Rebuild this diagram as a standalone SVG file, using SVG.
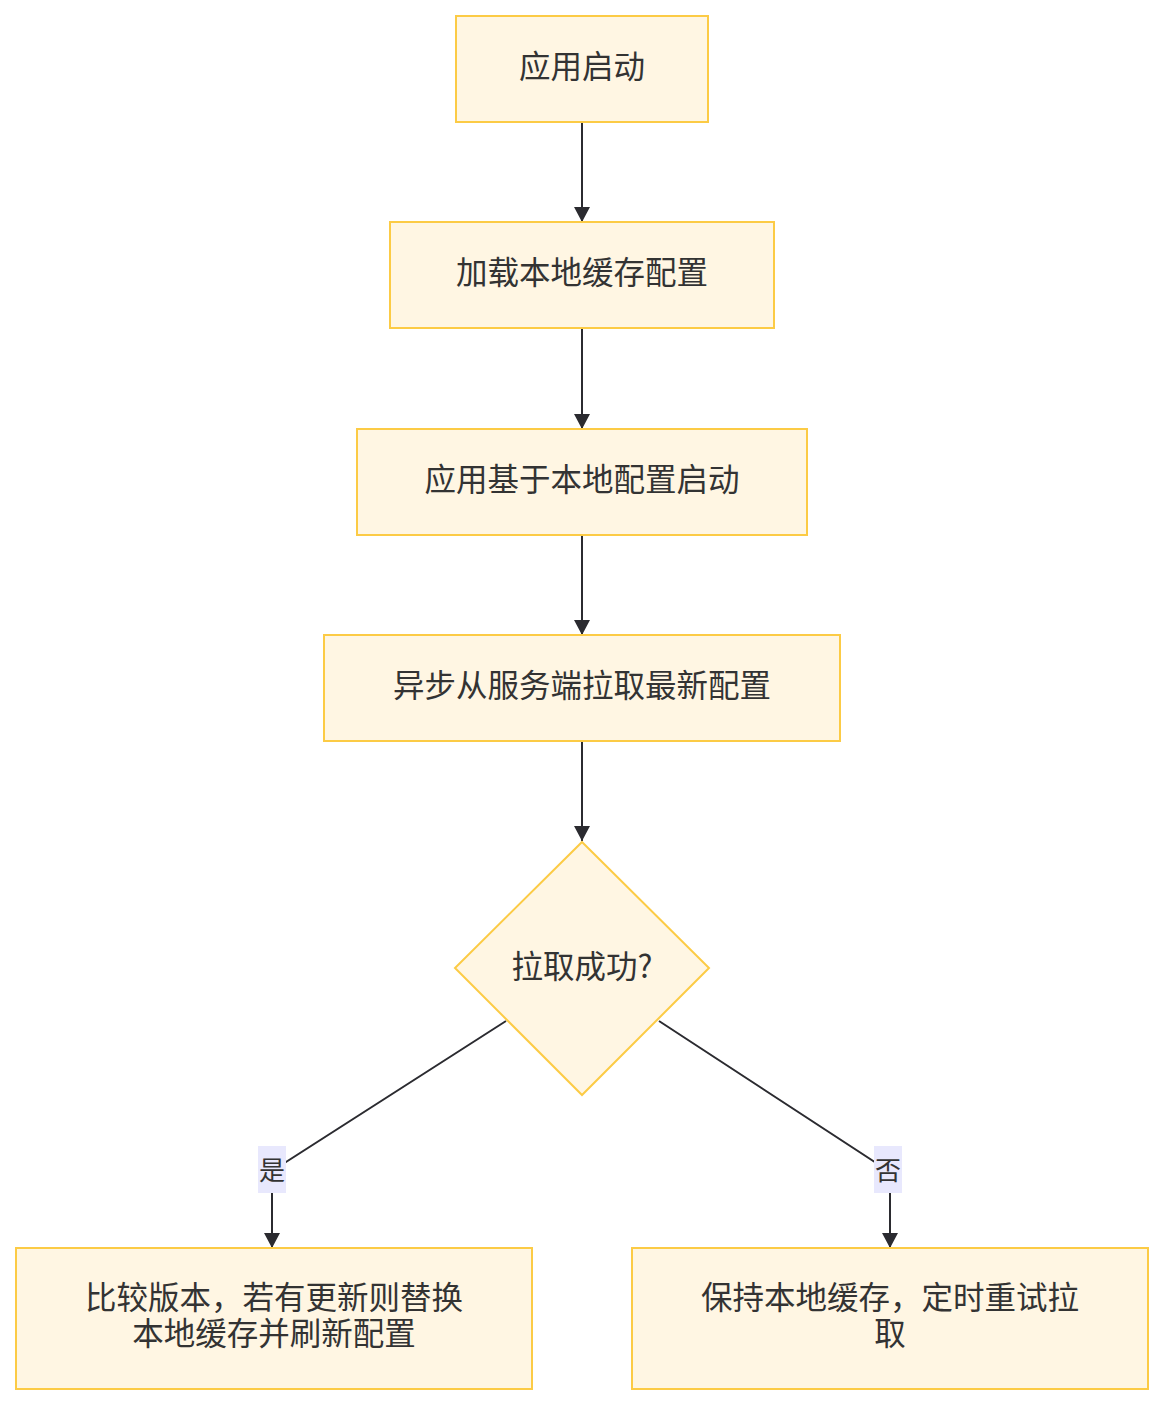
<svg xmlns="http://www.w3.org/2000/svg" width="1164" height="1406" viewBox="0 0 1164 1406">
<defs>
<marker id="arr" viewBox="0 0 10 10" refX="10" refY="5" markerWidth="15" markerHeight="16" markerUnits="userSpaceOnUse" orient="auto" preserveAspectRatio="none">
<path d="M0,0 L10,5 L0,10 z" fill="#2b2b30"/>
</marker>
<style>
.n{fill:#fff6e3;stroke:#fccb45;stroke-width:2}
.t{font-family:"Noto Sans CJK SC","Noto Sans",sans-serif;font-size:31.5px;fill:#333;text-anchor:middle;dominant-baseline:central}
.e{fill:none;stroke:#2b2b30;stroke-width:2}
.lb{fill:#e8e8fd}
.lt{font-family:"Noto Sans CJK SC","Noto Sans",sans-serif;font-size:26px;fill:#333;text-anchor:middle;dominant-baseline:central}
</style>
</defs>
<rect width="1164" height="1406" fill="#fff"/>
<g id="edges">
<path class="e" d="M582,122 L582,222" marker-end="url(#arr)"/>
<path class="e" d="M582,328 L582,429" marker-end="url(#arr)"/>
<path class="e" d="M582,535 L582,635" marker-end="url(#arr)"/>
<path class="e" d="M582,741 L582,841" marker-end="url(#arr)"/>
<path class="e" d="M506,1021 L272,1171 L272,1248" marker-end="url(#arr)"/>
<path class="e" d="M659,1021 L890,1172 L890,1248" marker-end="url(#arr)"/>
<g id="label-yes"><rect class="lb" x="258" y="1146" width="28" height="47"/><text class="lt" x="272" y="1168">是</text></g>
<g id="label-no"><rect class="lb" x="874" y="1146" width="28" height="47"/><text class="lt" x="888" y="1168">否</text></g>
</g>
<g id="n1"><rect class="n" x="456" y="16" width="252" height="106"/><text class="t" x="582" y="64">应用启动</text></g>
<g id="n2"><rect class="n" x="390" y="222" width="384" height="106"/><text class="t" x="582" y="270">加载本地缓存配置</text></g>
<g id="n3"><rect class="n" x="357" y="429" width="450" height="106"/><text class="t" x="582" y="477">应用基于本地配置启动</text></g>
<g id="n4"><rect class="n" x="324" y="635" width="516" height="106"/><text class="t" x="582" y="683">异步从服务端拉取最新配置</text></g>
<g id="n5"><polygon class="n" points="582,842 709,968 582,1095 455,968"/><text class="t" x="582" y="964">拉取成功?</text></g>
<g id="n6"><rect class="n" x="16" y="1248" width="516" height="141"/><text class="t" x="274" y="1295">比较版本，若有更新则替换</text><text class="t" x="274" y="1331">本地缓存并刷新配置</text></g>
<g id="n7"><rect class="n" x="632" y="1248" width="516" height="141"/><text class="t" x="890" y="1295">保持本地缓存，定时重试拉</text><text class="t" x="890" y="1331">取</text></g>
</svg>
